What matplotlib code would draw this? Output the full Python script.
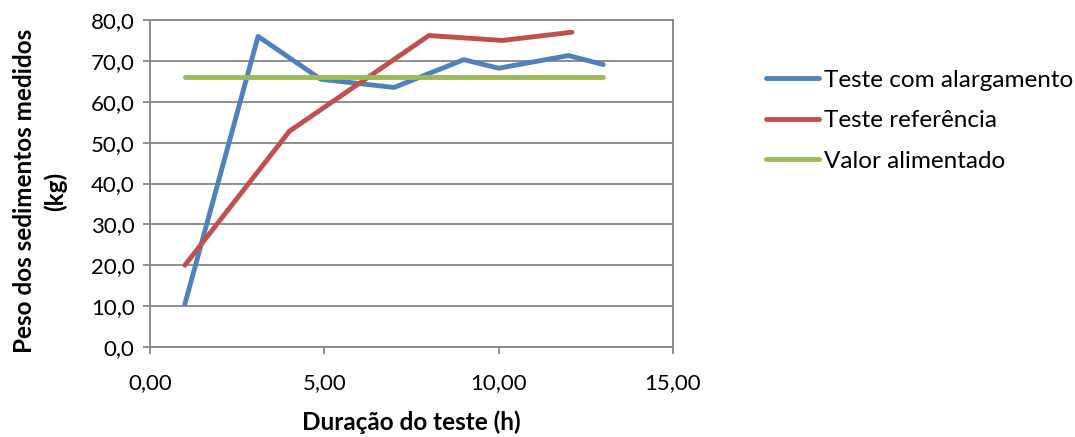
import matplotlib.pyplot as plt
from matplotlib.ticker import FuncFormatter

plt.rcParams['font.family'] = ['Lato', 'DejaVu Sans']

# Peso dos sedimentos medidos ao longo do teste
horas_alarg = [1, 3.1, 4.9, 7, 9, 10, 12, 13]
peso_alarg = [10.5, 76.0, 65.5, 63.5, 70.3, 68.2, 71.3, 69.1]

horas_ref = [1, 4, 8, 10.1, 12.1]
peso_ref = [20.0, 52.8, 76.2, 75.0, 77.0]

horas_alim = [1, 13]
peso_alim = [66.0, 66.0]

fig = plt.figure(figsize=(10.75, 4.37), dpi=100)
ax = fig.add_axes([150 / 1075, 1 - 347 / 437, 523 / 1075, 327 / 437])

ax.plot(horas_alarg, peso_alarg, color="#4F81BD", lw=3.5, solid_capstyle="round",
        solid_joinstyle="round", label="Teste com alargamento", zorder=3)
ax.plot(horas_ref, peso_ref, color="#C0504D", lw=3.5, solid_capstyle="round",
        solid_joinstyle="round", label="Teste referência", zorder=3)
ax.plot(horas_alim, peso_alim, color="#9BBB59", lw=3.5, solid_capstyle="round",
        label="Valor alimentado", zorder=3)

ax.set_xlim(0, 15)
ax.set_ylim(0, 80)
ax.set_xticks([0, 5, 10, 15])
ax.set_yticks(range(0, 81, 10))
ax.xaxis.set_major_formatter(FuncFormatter(lambda v, p: f"{v:.2f}".replace(".", ",")))
ax.yaxis.set_major_formatter(FuncFormatter(lambda v, p: f"{v:.1f}".replace(".", ",")))
ax.tick_params(axis="both", labelsize=16, colors="#868686", labelcolor="black",
               length=5, width=1.3, direction="out")
ax.tick_params(axis="x", pad=14)
ax.tick_params(axis="y", pad=6)
ax.grid(axis="y", color="#868686", lw=1.3)
ax.set_axisbelow(True)
for s in ax.spines.values():
    s.set_color("#868686")
    s.set_linewidth(1.3)

ax.set_xlabel("Duração do teste (h)", fontsize=17.5, fontweight="bold", va="center")
ax.xaxis.set_label_coords(0.5, -0.23)
ax.set_ylabel("Peso dos sedimentos medidos\n(kg)", fontsize=17.5, fontweight="bold",
              va="center", linespacing=1.35)
ax.yaxis.set_label_coords(-0.21, 0.477)

fig.legend(loc="upper left", bbox_to_anchor=(756 / 1075, 1 - 60 / 437), frameon=False,
           fontsize=17.5, handlelength=2.2, handletextpad=0.2, labelspacing=0.8,
           borderaxespad=0)

fig.savefig("out.png", dpi=100)
